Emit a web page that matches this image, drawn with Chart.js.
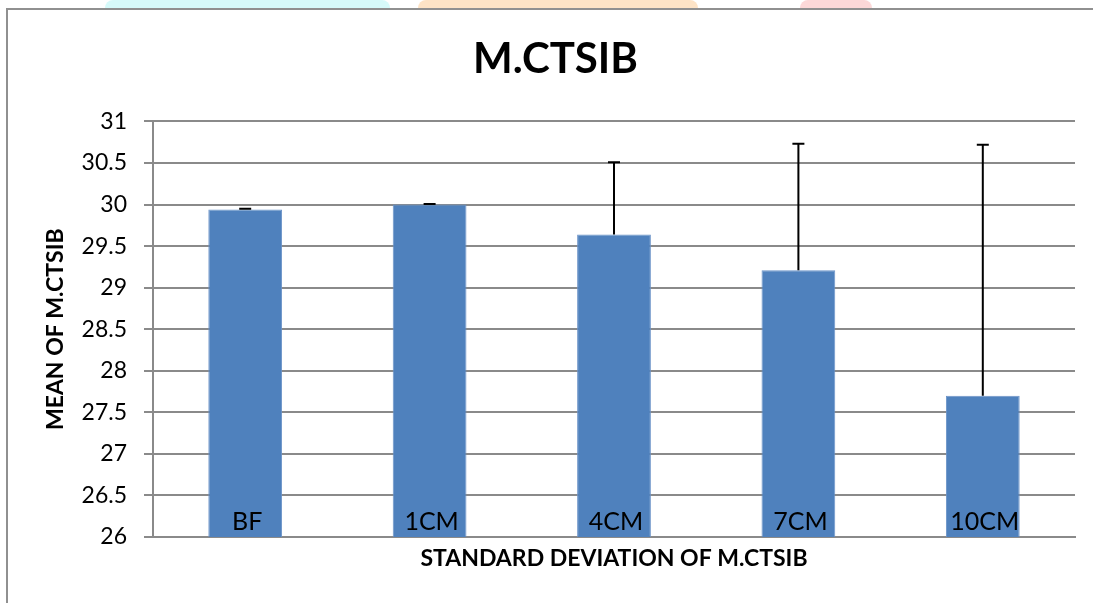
<!DOCTYPE html>
<html>
<head>
<meta charset="utf-8">
<script src="https://cdn.jsdelivr.net/npm/chart.js@4/dist/chart.umd.min.js"></script>
<style>
	body { margin: 0; background: #fff; }
	#wrap { position: relative; width: 1093px; height: 603px; overflow: hidden; }
	#frame { position: absolute; left: 6px; top: 8px; width: 1200px; height: 700px; border-left: 2px solid #909090; border-top: 2px solid #909090; }
	.mark { position: absolute; top: 0; height: 8px; border-radius: 40px 40px 0 0; }
	canvas { position: absolute; left: 0; top: 0; }
</style>
</head>
<body>
<div id="wrap">
	<div class="mark" style="left:105px;width:285px;background:#d6fafa;"></div>
	<div class="mark" style="left:418px;width:280px;background:#fde3c6;"></div>
	<div class="mark" style="left:800px;width:72px;background:#fcd8d8;"></div>
	<div id="frame"></div>
	<canvas id="chart" width="1093" height="603"></canvas>
</div>
<script>
// values
const categories = ["BF", "1CM", "4CM", "7CM", "10CM"];
const means = [29.94, 30.0, 29.64, 29.21, 27.70];
const stdDevs = [0.01, 0.005, 0.87, 1.52, 3.02];
const yTicks = [26, 26.5, 27, 27.5, 28, 28.5, 29, 29.5, 30, 30.5, 31];

const font = "Lato, 'Open Sans', sans-serif";

// upward-only error bars, and the category names sitting inside the bar feet
const barExtras = {
	id: "barExtras",
	afterDatasetsDraw(chart) {
		const {ctx} = chart;
		const xScale = chart.scales.x;
		const yScale = chart.scales.y;
		const meta = chart.getDatasetMeta(0);
		ctx.save();
		ctx.strokeStyle = "#000";
		ctx.lineWidth = 2;
		meta.data.forEach((bar, i) => {
			const top = yScale.getPixelForValue(means[i] + stdDevs[i]);
			ctx.beginPath();
			ctx.moveTo(bar.x, bar.y);
			ctx.lineTo(bar.x, top);
			ctx.moveTo(bar.x - 6, top);
			ctx.lineTo(bar.x + 6, top);
			ctx.stroke();
		});
		ctx.fillStyle = "#000";
		ctx.font = "25px " + font;
		ctx.textAlign = "center";
		ctx.textBaseline = "middle";
		categories.forEach((name, i) => {
			ctx.fillText(name, xScale.getPixelForValue(i) + 2, xScale.top - 15);
		});
		ctx.restore();
	}
};

new Chart(document.getElementById("chart"), {
	type: "bar",
	data: {
		labels: categories,
		datasets: [{
			data: means,
			backgroundColor: "#4f81bd",
			borderColor: "#6b93c8",
			borderWidth: 1,
			categoryPercentage: 1,
			barPercentage: 0.4
		}]
	},
	options: {
		responsive: false,
		animation: false,
		layout: {padding: {left: 36, right: 18, top: 0, bottom: 0}},
		plugins: {
			legend: {display: false},
			tooltip: {enabled: false},
			title: {
				display: true,
				text: "M.CTSIB",
				color: "#000",
				font: {family: font, size: 42, weight: "bold"},
				padding: {top: 34, bottom: 37}
			}
		},
		scales: {
			x: {
				grid: {display: false},
				border: {display: true, color: "#8a8a8a", width: 2},
				ticks: {display: false},
				title: {
					display: true,
					text: "STANDARD DEVIATION OF M.CTSIB",
					color: "#000",
					font: {family: font, size: 23, weight: "bold"},
					padding: {top: 0, bottom: 31}
				},
				afterFit: (scale) => { scale.height = 66; }
			},
			y: {
				min: 26,
				max: 31,
				grid: {color: "#8a8a8a", lineWidth: 2, tickLength: 9},
				border: {color: "#8a8a8a", width: 2},
				afterBuildTicks: (scale) => { scale.ticks = yTicks.map(v => ({value: v})); },
				ticks: {
					color: "#000",
					font: {family: font, size: 23},
					padding: 17,
					callback: (v) => String(v)
				},
				title: {
					display: true,
					text: "MEAN OF M.CTSIB",
					color: "#000",
					font: {family: font, size: 23, weight: "bold"},
					padding: {top: 6, bottom: 0}
				},
				afterFit: (scale) => { scale.width = 117; }
			}
		}
	},
	plugins: [barExtras]
});
</script>
</body>
</html>
